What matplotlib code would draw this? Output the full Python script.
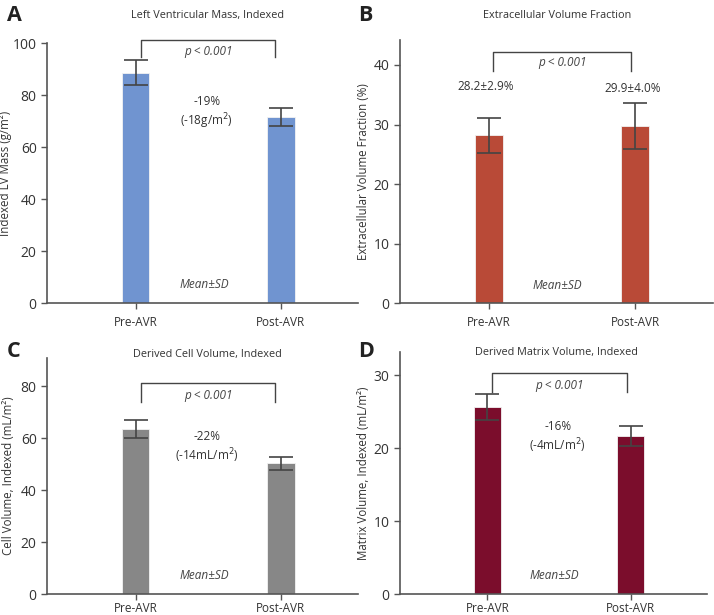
import matplotlib
matplotlib.use("Agg")
import matplotlib.pyplot as plt

plt.rcParams["font.family"] = ["Open Sans", "DejaVu Sans"]
plt.rcParams["text.color"] = "#333333"
plt.rcParams["axes.labelcolor"] = "#333333"
plt.rcParams["xtick.color"] = "#555555"
plt.rcParams["ytick.color"] = "#555555"
plt.rcParams["xtick.labelcolor"] = "#333333"
plt.rcParams["ytick.labelcolor"] = "#333333"

groups = ["Pre-AVR", "Post-AVR"]

lvm_mean = [88.5, 71.5]
lvm_sd = [4.8, 3.5]

ecv_mean = [28.2, 29.8]
ecv_sd = [2.9, 3.9]
ecv_labels = ["28.2±2.9%", "29.9±4.0%"]

cell_mean = [63.5, 50.3]
cell_sd = [3.4, 2.6]

matrix_mean = [25.6, 21.7]
matrix_sd = [1.75, 1.35]

fig = plt.figure(figsize=(7.14, 6.15), dpi=100)


def panel(rect, title, title_xy, ylabel, label_x, means, sds, color, ylim,
          yticks, bracket, p_y, xpad, change=None, change_y=None,
          mean_sd_y=None):
    ax = fig.add_axes(rect)
    x = [0, 1]
    ax.bar(x, means, width=0.19, color=color, edgecolor="#f2f2f2",
           linewidth=0.6, zorder=2)
    ax.errorbar(x, means, yerr=sds, fmt="none", ecolor="#444444",
                elinewidth=1.2, capsize=8.5, capthick=1.2, zorder=3)
    ax.set_xlim(-0.61, 1.53)
    ax.set_ylim(*ylim)
    ax.set_yticks(yticks)
    ax.set_xticks(x)
    ax.set_xticklabels(groups, fontsize=8.5)
    ax.tick_params(axis="y", labelsize=10, length=4, width=1)
    ax.tick_params(axis="x", length=4, width=1, pad=xpad)
    ax.spines["top"].set_visible(False)
    ax.spines["right"].set_visible(False)
    for s in ("left", "bottom"):
        ax.spines[s].set_color("#555555")
        ax.spines[s].set_linewidth(1.2)
    ax.set_ylabel(ylabel, fontsize=8.3)
    ax.yaxis.set_label_coords(label_x, 0.5)

    # significance bracket
    bx0, bx1, btop, bleg = bracket
    ax.plot([bx0, bx0, bx1, bx1], [bleg, btop, btop, bleg],
            color="#444444", lw=1.0, solid_joinstyle="round", clip_on=False)
    ax.text((bx0 + bx1) / 2, p_y, "p < 0.001", style="italic", fontsize=8.5,
            ha="center", va="center", color="#444444")

    if change is not None:
        ax.text(0.49, change_y, change, fontsize=8.5, ha="center",
                va="center", linespacing=1.25)
    ax.text(0.47, mean_sd_y, "Mean±SD", style="italic", fontsize=8.5,
            ha="center", va="center", color="#444444")

    fig.text(title_xy[0], title_xy[1], title, fontsize=7.8, ha="center",
             va="center", weight="medium")
    return ax


ax_a = panel([0.066, 0.507, 0.435, 0.423], "Left Ventricular Mass, Indexed",
             (0.291, 0.974), "Indexed LV Mass (g/m²)", -0.113,
             lvm_mean, lvm_sd, "#7094d0",
             (0, 100), [0, 20, 40, 60, 80, 100],
             (0.04, 0.96, 101.2, 94.5), 96.8, 5,
             change="-19%\n(-18g/m$^2$)", change_y=73, mean_sd_y=7)

ax_b = panel([0.560, 0.507, 0.438, 0.428], "Extracellular Volume Fraction",
             (0.780, 0.974), "Extracellular Volume Fraction (%)", -0.096,
             ecv_mean, ecv_sd, "#b94a37",
             (0, 44.2), [0, 10, 20, 30, 40],
             (0.03, 0.97, 42.2, 39.0), 40.5, 5, mean_sd_y=3)
for i, lab in enumerate(ecv_labels):
    ax_b.text(i - 0.02, [36.4, 36.0][i], lab, fontsize=8.5, ha="center",
              va="center", weight="medium")

ax_c = panel([0.066, 0.034, 0.435, 0.384], "Derived Cell Volume, Indexed",
             (0.291, 0.424), "Cell Volume, Indexed (mL/m²)", -0.103,
             cell_mean, cell_sd, "#878787",
             (0, 90.8), [0, 20, 40, 60, 80],
             (0.04, 0.96, 81.2, 74.0), 76.5, 2,
             change="-22%\n(-14mL/m$^2$)", change_y=56.5, mean_sd_y=7)

ax_d = panel([0.560, 0.034, 0.430, 0.394], "Derived Matrix Volume, Indexed",
             (0.779, 0.427), "Matrix Volume, Indexed (mL/m²)", -0.098,
             matrix_mean, matrix_sd, "#7b0d2c",
             (0, 33.2), [0, 10, 20, 30],
             (0.03, 0.97, 30.3, 27.7), 28.6, 2,
             change="-16%\n(-4mL/m$^2$)", change_y=21.4, mean_sd_y=2.5)

# panel letters
for lx, ly, letter in [(0.010, 0.974, "A"), (0.502, 0.974, "B"),
                       (0.010, 0.429, "C"), (0.502, 0.429, "D")]:
    fig.text(lx, ly, letter, fontsize=15.5, weight="bold", color="#222222",
             ha="left", va="center")

fig.savefig("out.png", dpi=100)
